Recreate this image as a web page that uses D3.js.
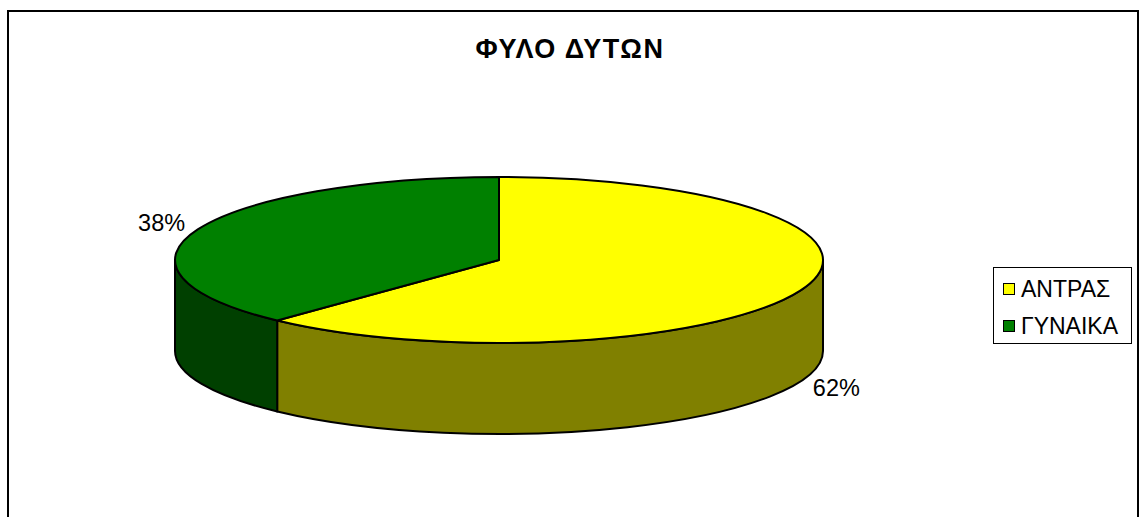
<!DOCTYPE html>
<html>
<head>
<meta charset="utf-8">
<script src="https://cdn.jsdelivr.net/npm/d3@7"></script>
<style>
  html, body { margin: 0; padding: 0; background: #fff; }
  svg { display: block; font-family: Arial, "Liberation Sans", sans-serif; }
</style>
</head>
<body>
<svg id="chart" width="1139" height="517"></svg>
<script>
const title = "ΦΥΛΟ ΔΥΤΩΝ";
const categories = ["ΑΝΤΡΑΣ", "ΓΥΝΑΙΚΑ"];
const values = [62, 38];
const topColors = ["#FFFF00", "#008000"];
const sideColors = ["#808000", "#004000"];

const W = 1139, H = 517;
const svg = d3.select("#chart");

// frame
svg.append("path")
  .attr("d", `M8,${H + 5} L8,11 L1138,11 L1138,${H + 5}`)
  .attr("fill", "none").attr("stroke", "#000").attr("stroke-width", 2);

// title
svg.append("text")
  .attr("x", 570).attr("y", 58)
  .attr("text-anchor", "middle")
  .attr("font-weight", "bold")
  .attr("font-size", 27)
  .attr("letter-spacing", 1.5)
  .text(title);

// 3D pie geometry
const cx = 499, cy = 260, rx = 324, ry = 83, depth = 91;
const pie = d3.pie().sort(null).value(d => d).startAngle(0).endAngle(2 * Math.PI);
const arcs = pie(values);

const px = a => cx + rx * Math.sin(a);
const py = a => cy - ry * Math.cos(a);

function topPath(a0, a1) {
  const large = (a1 - a0) > Math.PI ? 1 : 0;
  return `M${cx},${cy} L${px(a0)},${py(a0)} A${rx},${ry} 0 ${large} 1 ${px(a1)},${py(a1)} Z`;
}
function sidePath(a0, a1) {
  const large = (a1 - a0) > Math.PI ? 1 : 0;
  return `M${px(a0)},${py(a0)} A${rx},${ry} 0 ${large} 1 ${px(a1)},${py(a1)} ` +
         `L${px(a1)},${py(a1) + depth} A${rx},${ry} 0 ${large} 0 ${px(a0)},${py(a0) + depth} Z`;
}

const g = svg.append("g");
// sides (front half: angles between PI/2 and 3PI/2)
arcs.forEach((d, i) => {
  const a0 = Math.max(d.startAngle, Math.PI / 2);
  const a1 = Math.min(d.endAngle, 3 * Math.PI / 2);
  if (a1 > a0) {
    g.append("path").attr("d", sidePath(a0, a1))
      .attr("fill", sideColors[i]).attr("stroke", "#000")
      .attr("stroke-width", 2).attr("stroke-linejoin", "round");
  }
});
// tops
arcs.forEach((d, i) => {
  g.append("path").attr("d", topPath(d.startAngle, d.endAngle))
    .attr("fill", topColors[i]).attr("stroke", "#000")
    .attr("stroke-width", 2).attr("stroke-linejoin", "round");
});

// labels
const total = d3.sum(values);
arcs.forEach((d, i) => {
  const m = (d.startAngle + d.endAngle) / 2;
  const x = cx + 1.12 * rx * Math.sin(m);
  let y = cy - 1.22 * ry * Math.cos(m);
  if (Math.cos(m) < 0) y += depth;
  svg.append("text")
    .attr("x", x).attr("y", y)
    .attr("text-anchor", "middle")
    .attr("dominant-baseline", "central")
    .attr("font-size", 23.5)
    .text(Math.round(values[i] / total * 100) + "%");
});

// legend
const lg = svg.append("g");
lg.append("rect").attr("x", 993.5).attr("y", 267.5).attr("width", 138).attr("height", 76)
  .attr("fill", "#fff").attr("stroke", "#000").attr("stroke-width", 1);
categories.forEach((c, i) => {
  const yy = 289 + i * 37;
  lg.append("rect").attr("x", 1003.5).attr("y", yy - 5.5).attr("width", 11).attr("height", 11)
    .attr("fill", topColors[i]).attr("stroke", "#000").attr("stroke-width", 1);
  lg.append("text").attr("x", 1021).attr("y", yy)
    .attr("dominant-baseline", "central")
    .attr("font-size", 23)
    .text(c);
});
</script>
</body>
</html>
